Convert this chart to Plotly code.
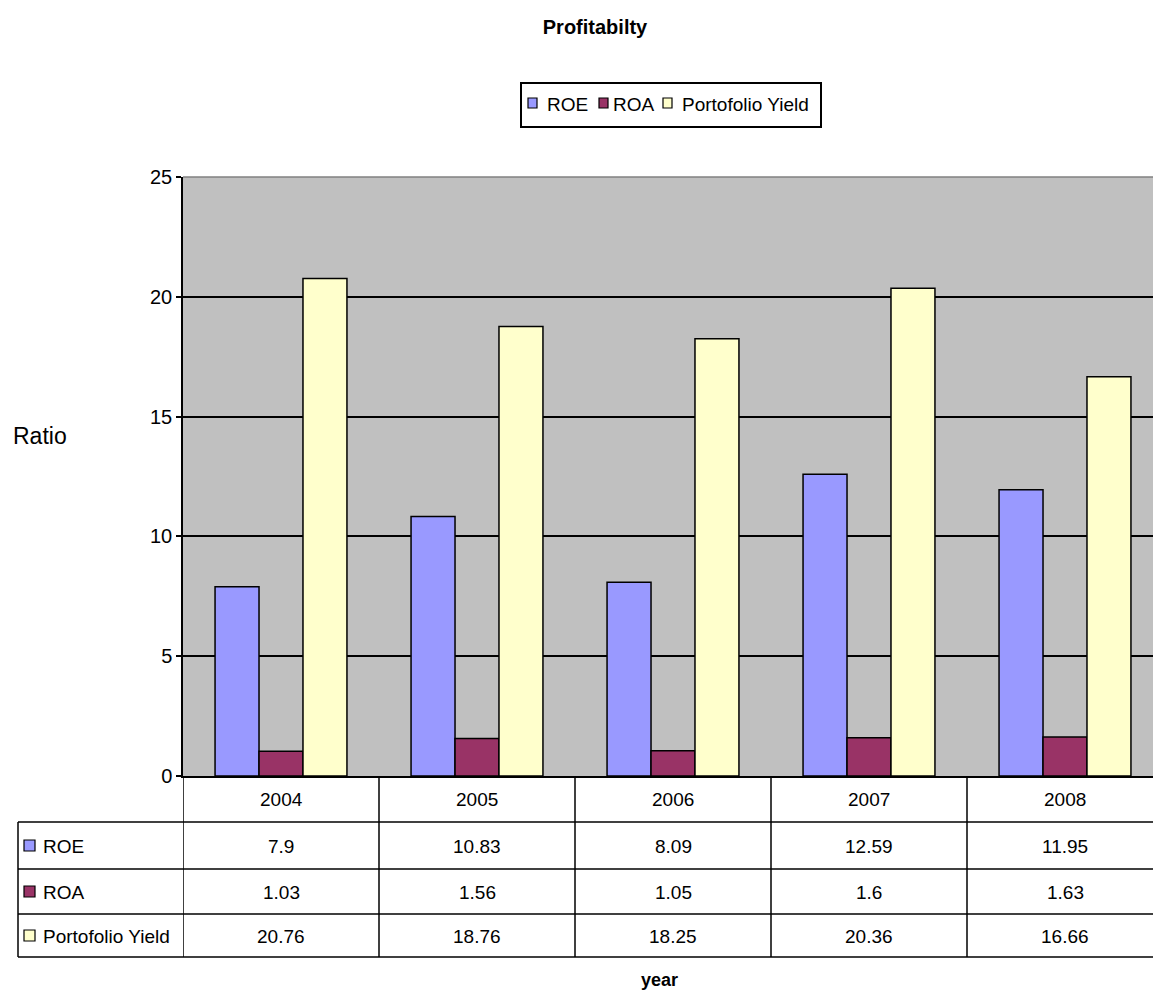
import plotly.graph_objects as go

# --- data ---------------------------------------------------------------
years = ["2004", "2005", "2006", "2007", "2008"]
roe = [7.9, 10.83, 8.09, 12.59, 11.95]
roa = [1.03, 1.56, 1.05, 1.6, 1.63]
portfolio_yield = [20.76, 18.76, 18.25, 20.36, 16.66]

series = [
    ("ROE", roe, "#9999FF"),
    ("ROA", roa, "#993366"),
    ("Portofolio Yield", portfolio_yield, "#FFFFCC"),
]

# --- layout geometry (pixels) --------------------------------------------
W, H = 1153, 994
PL, PR, PT, PB = 183, 1153, 177, 776          # plot area box
CAT_W = 196                                   # pixel width of one category
FONT = "Liberation Sans, Arial, sans-serif"


def px(x):
    """pixel x -> paper x"""
    return (x - PL) / (PR - PL)


def py(y):
    """pixel y -> paper y"""
    return (PB - y) / (PB - PT)


def label(x, y, text, size, xref="paper", xanchor="center"):
    return dict(x=x, y=y, xref=xref, yref="paper", text=text, showarrow=False,
                xanchor=xanchor, yanchor="middle",
                font=dict(family=FONT, size=size, color="black"))


xidx = list(range(len(years)))
x_range = [-0.5, -0.5 + (PR - PL) / CAT_W]

fig = go.Figure()
for name, vals, color in series:
    fig.add_trace(go.Bar(
        x=xidx, y=vals, name=name,
        marker=dict(color=color, line=dict(color="black", width=1.5)),
        showlegend=False,
    ))

shapes = []
annotations = []

# top border of plot area
shapes.append(dict(type="line", xref="paper", yref="paper", x0=0, x1=1, y0=1, y1=1,
                   line=dict(color="#808080", width=1.5)))

# --- data table under the plot -------------------------------------------
row_lines = [822, 869, 914, 957]
row_centers = [799, 846, 892, 936]
line_style = dict(color="black", width=1.5)

for yl in row_lines:
    shapes.append(dict(type="line", xref="paper", yref="paper",
                       x0=px(18), x1=1.01, y0=py(yl), y1=py(yl), line=line_style))
# left edge of row-label column
shapes.append(dict(type="line", xref="paper", yref="paper",
                   x0=px(18), x1=px(18), y0=py(822), y1=py(957), line=line_style))
# column separators (one per category boundary)
for i in range(-1, len(years)):
    shapes.append(dict(type="line", xref="x", yref="paper",
                       x0=i + 0.5, x1=i + 0.5, y0=py(PB), y1=py(957), line=line_style))

# year headers
for i, yr in enumerate(years):
    annotations.append(label(i, py(row_centers[0]), yr, 19, xref="x"))

# series rows
for r, (name, vals, color) in enumerate(series):
    yc = row_centers[r + 1]
    shapes.append(dict(type="rect", xref="paper", yref="paper",
                       x0=px(24), x1=px(35), y0=py(yc + 5), y1=py(yc - 6),
                       fillcolor=color, line=dict(color="black", width=1.2)))
    annotations.append(label(px(41), py(yc), name, 19, xanchor="left"))
    for i, v in enumerate(vals):
        annotations.append(label(i, py(yc), f"{v:g}", 19, xref="x"))

# --- legend box ----------------------------------------------------------
shapes.append(dict(type="rect", xref="paper", yref="paper",
                   x0=px(521), x1=px(821), y0=py(127), y1=py(83),
                   line=dict(color="black", width=2), fillcolor="white"))
legend_pos = [(528, 545), (599, 611), (663, 680)]
for (sx, tx), (name, vals, color) in zip(legend_pos, series):
    shapes.append(dict(type="rect", xref="paper", yref="paper",
                       x0=px(sx), x1=px(sx + 9), y0=py(108), y1=py(98),
                       fillcolor=color, line=dict(color="black", width=1.2)))
    annotations.append(label(px(tx), py(104), name, 19, xanchor="left"))

# axis titles
annotations.append(label(px(40), py(436), "Ratio", 23))
annotations.append(label(px(659), py(980), "<b>year</b>", 18))

fig.update_layout(
    width=W, height=H,
    margin=dict(l=PL, r=W - PR, t=PT, b=H - PB, pad=0),
    paper_bgcolor="white",
    plot_bgcolor="#C0C0C0",
    title=dict(text="<b>Profitabilty</b>", x=595 / W, xanchor="center",
               y=1 - 27 / H, yanchor="middle",
               font=dict(family=FONT, size=20, color="black")),
    barmode="group", bargap=0.327, bargroupgap=0,
    xaxis=dict(range=x_range, showticklabels=False, showgrid=False,
               zeroline=False, showline=True, linecolor="black", linewidth=1.5,
               ticks=""),
    yaxis=dict(range=[0, 25], dtick=5, showgrid=True, gridcolor="black",
               gridwidth=1.5, zeroline=False, showline=True, linecolor="black",
               linewidth=1.5, ticks="outside", ticklen=5, tickcolor="black",
               tickwidth=1.5,
               tickfont=dict(family=FONT, size=20, color="black")),
    shapes=shapes,
    annotations=annotations,
)

fig.write_html("out.html")
